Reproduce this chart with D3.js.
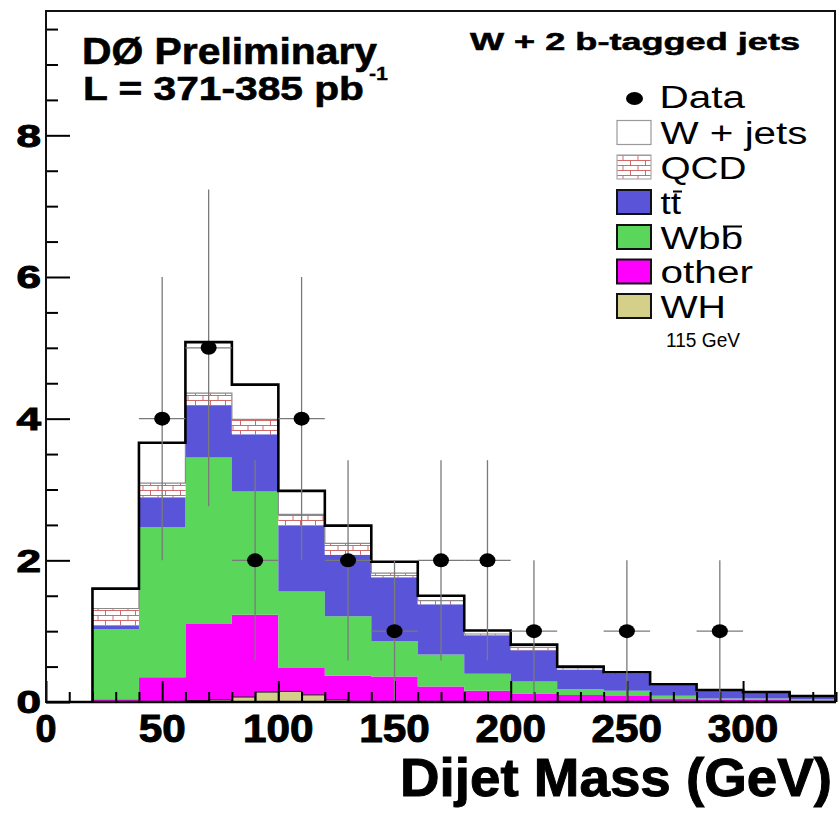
<!DOCTYPE html>
<html>
<head>
<meta charset="utf-8">
<script src="https://cdn.jsdelivr.net/npm/d3@7"></script>
<style>
  body { margin: 0; background: #fff; }
  svg { display: block; font-family: "Liberation Sans", Arial, Helvetica, sans-serif; }
</style>
</head>
<body>
<svg id="chart" width="839" height="814"></svg>
<script>
// Dijet mass spectrum, W + 2 b-tagged jets (events per 20 GeV bin)
const binLow = [20, 40, 60, 80, 100, 120, 140, 160, 180, 200, 220, 240, 260, 280, 300, 320];
const binWidth = 20;

// Background contributions per bin, stacked bottom to top
const otherVals = [0.04, 0.35, 1.10, 1.23, 0.48, 0.37, 0.36, 0.22, 0.16, 0.12, 0.10, 0.085, 0.05, 0.03, 0.03, 0.02];
const wbbVals   = [0.99, 2.12, 2.35, 1.74, 1.08, 0.84, 0.50, 0.45, 0.24, 0.17, 0.08, 0.075, 0.04, 0.02, 0.02, 0.02];
const ttbarVals = [0.05, 0.42, 0.73, 0.81, 0.93, 0.87, 0.90, 0.71, 0.54, 0.44, 0.28, 0.24, 0.145, 0.11, 0.075, 0.035];
const qcdVals   = [0.24, 0.20, 0.18, 0.21, 0.16, 0.16, 0.06, 0.05, 0.02, 0.04, 0.02, 0.01, 0.005, 0.005, 0.005, 0.005];
const wjetsVals = [0.28, 0.57, 0.72, 0.49, 0.33, 0.25, 0.16, 0.07, 0.05, 0.04, 0.02, 0.01, 0.01, 0.005, 0.01, 0.005];

// WH signal (115 GeV), 10 GeV bins
const whLow = [60, 70, 80, 90, 100, 110, 120];
const whVals = [0.02, 0.03, 0.07, 0.14, 0.15, 0.10, 0.03];
const whWidth = 10;

// Observed events
const dataMass = [50, 70, 90, 110, 130, 150, 170, 190, 210, 250, 290];
const dataCounts = [4, 5, 2, 4, 2, 1, 2, 2, 1, 1, 1];

// Axis labels
const xTickLabels = [0, 50, 100, 150, 200, 250, 300];
const yTickLabels = [0, 2, 4, 6, 8];

const colors = {
  wjets: "#ffffff",
  ttbar: "#5a55d8",
  wbb: "#5ad65a",
  other: "#ff00ff",
  wh: "#d4d08a",
  qcdLine: "#cc5a5a"
};

const svg = d3.select("#chart");
const x = d3.scaleLinear().domain([0, 340]).range([46, 836]);
const y = d3.scaleLinear().domain([0, 9.755]).range([702, 11]);

// brick hatch for QCD
const defs = svg.append("defs");
const pat = defs.append("pattern").attr("id", "bricks")
  .attr("patternUnits", "userSpaceOnUse").attr("width", 15).attr("height", 10);
pat.append("rect").attr("width", 15).attr("height", 10).attr("fill", "#fff");
pat.append("path")
  .attr("d", "M0,0.5H15M0,5.5H15M0.5,0.5V5.5M8,5.5V10")
  .attr("stroke", colors.qcdLine).attr("stroke-width", 0.9).attr("fill", "none");

defs.append("clipPath").attr("id", "plotClip")
  .append("rect").attr("x", x(0)).attr("y", y.range()[1])
  .attr("width", x(340) - x(0)).attr("height", y(0) - y.range()[1]);

// stacked background
const rows = binLow.map((lo, i) => ({
  lo, other: otherVals[i], wbb: wbbVals[i], ttbar: ttbarVals[i], qcd: qcdVals[i], wjets: wjetsVals[i]
}));
const keys = ["other", "wbb", "ttbar", "qcd", "wjets"];
const series = d3.stack().keys(keys)(rows);

// step points: each bin plus a closing edge
function stepPoints(layer) {
  const pts = layer.map((d, i) => ({ x: binLow[i], y0: d[0], y1: d[1] }));
  const last = pts[pts.length - 1];
  pts.push({ x: last.x + binWidth, y0: last.y0, y1: last.y1 });
  return pts;
}
const area = d3.area().curve(d3.curveStepAfter)
  .x(d => x(d.x)).y0(d => y(d.y0)).y1(d => y(d.y1));
const topLine = d3.line().curve(d3.curveStepAfter)
  .x(d => x(d.x)).y(d => y(d.y1));

const plot = svg.append("g").attr("clip-path", "url(#plotClip)");
const fillFor = { other: colors.other, wbb: colors.wbb, ttbar: colors.ttbar, qcd: "url(#bricks)", wjets: colors.wjets };

series.forEach(layer => {
  plot.append("path").datum(stepPoints(layer))
    .attr("d", area).attr("fill", fillFor[layer.key]).attr("stroke", "none");
});

// thin outline on top of QCD band
const qcdLayer = series.find(s => s.key === "qcd");
plot.append("path").datum(stepPoints(qcdLayer))
  .attr("d", topLine).attr("fill", "none").attr("stroke", "#8a8a8a").attr("stroke-width", 1.2);

// outline of total background, dropping to zero at the first edge
const totalLayer = series[series.length - 1];
const totalPts = stepPoints(totalLayer);
const totalPath = d3.path();
totalPath.moveTo(x(binLow[0]), y(0));
totalPts.forEach((p, i) => {
  totalPath.lineTo(x(p.x), y(p.y1));
  if (i < totalPts.length - 1) totalPath.lineTo(x(totalPts[i + 1].x), y(p.y1));
});
plot.append("path").attr("d", totalPath.toString())
  .attr("fill", "none").attr("stroke", "#000").attr("stroke-width", 2.6);

// WH signal
plot.selectAll("rect.wh").data(whLow).join("rect").attr("class", "wh")
  .attr("x", d => x(d)).attr("width", d => x(d + whWidth) - x(d))
  .attr("y", (d, i) => y(whVals[i])).attr("height", (d, i) => y(0) - y(whVals[i]))
  .attr("fill", colors.wh).attr("stroke", "#222").attr("stroke-width", 1);

// axes with inward ticks
const xAxis = d3.axisBottom(x).tickValues(d3.range(0, 341, 10)).tickSize(-10).tickFormat("");
const gx = svg.append("g").attr("transform", `translate(0,${y(0)})`).call(xAxis);
gx.select(".domain").remove();
gx.selectAll(".tick line")
  .attr("y2", d => d % 50 === 0 ? -21 : -10)
  .attr("stroke", "#000").attr("stroke-width", 2);

const yAxis = d3.axisLeft(y).tickValues(d3.range(0, 9.6, 0.5)).tickSize(-12).tickFormat("");
const gy = svg.append("g").attr("transform", `translate(${x(0)},0)`).call(yAxis);
gy.select(".domain").remove();
gy.selectAll(".tick line")
  .attr("x2", d => d % 2 === 0 ? 24 : 12)
  .attr("stroke", "#000").attr("stroke-width", 2);

// tick labels
svg.append("g").selectAll("text").data(xTickLabels).join("text")
  .attr("x", d => x(d)).attr("y", 742)
  .attr("text-anchor", "middle").attr("font-weight", "bold").attr("font-size", 38)
  .attr("stroke", "#000").attr("stroke-width", 1)
  .attr("textLength", d => d === 0 ? 21 : String(d).length * 23.5)
  .attr("lengthAdjust", "spacingAndGlyphs")
  .text(d => d);

svg.append("g").selectAll("text").data(yTickLabels).join("text")
  .attr("x", 41).attr("y", d => y(d) + 11.4)
  .attr("text-anchor", "end").attr("font-weight", "bold").attr("font-size", 31.7)
  .attr("stroke", "#000").attr("stroke-width", 1)
  .attr("textLength", 24.5).attr("lengthAdjust", "spacingAndGlyphs")
  .text(d => d);

// axis title
svg.append("text").attr("x", 832).attr("y", 796)
  .attr("text-anchor", "end").attr("font-weight", "bold").attr("font-size", 54)
  .attr("stroke", "#000").attr("stroke-width", 1)
  .attr("textLength", 432).attr("lengthAdjust", "spacingAndGlyphs")
  .text("Dijet Mass (GeV)");

// data points with errors
const gd = svg.append("g");
dataMass.forEach((m, i) => {
  const n = dataCounts[i], e = Math.sqrt(n);
  gd.append("line").attr("x1", x(m)).attr("x2", x(m))
    .attr("y1", y(Math.max(0, n - e))).attr("y2", y(n + e))
    .attr("stroke", "#7a7a7a").attr("stroke-width", 1.3);
  gd.append("line").attr("x1", x(m - binWidth / 2)).attr("x2", x(m + binWidth / 2))
    .attr("y1", y(n)).attr("y2", y(n))
    .attr("stroke", "#7a7a7a").attr("stroke-width", 1.3);
});
gd.selectAll("ellipse").data(dataMass).join("ellipse")
  .attr("cx", d => x(d)).attr("cy", (d, i) => y(dataCounts[i]))
  .attr("rx", 8).attr("ry", 7).attr("fill", "#000");

// frame
svg.append("rect").attr("x", x(0)).attr("y", y.range()[1])
  .attr("width", x(340) - x(0) - 1).attr("height", y(0) - y.range()[1])
  .attr("fill", "none").attr("stroke", "#111").attr("stroke-width", 2);
svg.append("line").attr("x1", x(0)).attr("x2", x(340)).attr("y1", y(0)).attr("y2", y(0))
  .attr("stroke", "#000").attr("stroke-width", 2.6);

// headings
function txt(s, xp, yp, fs, w, weight, sw) {
  const t = svg.append("text").attr("x", xp).attr("y", yp)
    .attr("font-size", fs).attr("font-weight", weight || "normal")
    .attr("textLength", w).attr("lengthAdjust", "spacingAndGlyphs").text(s);
  if (sw) t.attr("stroke", "#000").attr("stroke-width", sw);
  return t;
}
txt("DØ Preliminary", 82, 64, 37, 295, "bold", 0.6);
txt("L = 371-385 pb", 83, 99.5, 34, 281, "bold", 0.6);
txt("-1", 369, 80, 18, 19, "bold", 0.3);
txt("W + 2 b-tagged jets", 470, 50.2, 23.5, 330, "bold", 0.5);

// legend
const legend = [
  { label: "W + jets", fill: colors.wjets, stroke: "#999", sw: 1.2, w: 147 },
  { label: "QCD", fill: "url(#bricks)", stroke: "#aaa", sw: 1.2, w: 86 },
  { label: "tt", fill: colors.ttbar, stroke: "#111", sw: 2, w: 20.5, bar: [673, 682] },
  { label: "Wbb", fill: colors.wbb, stroke: "#111", sw: 2, w: 82.5, bar: [723, 742] },
  { label: "other", fill: colors.other, stroke: "#111", sw: 2, w: 92.5 },
  { label: "WH", fill: colors.wh, stroke: "#111", sw: 2, w: 65.5 }
];
svg.append("ellipse").attr("cx", 634.5).attr("cy", 98.5).attr("rx", 8.5).attr("ry", 6.5).attr("fill", "#000");
txt("Data", 659.5, 108, 31, 85.5);
const rowTop = [120.5, 155, 190, 225, 259.5, 294];
legend.forEach((d, i) => {
  const t = rowTop[i];
  svg.append("rect").attr("x", 617).attr("y", t).attr("width", 34).attr("height", 24)
    .attr("fill", d.fill).attr("stroke", d.stroke).attr("stroke-width", d.sw);
  txt(d.label, 660.5, t + 23.5, 31, d.w);
  if (d.bar) {
    svg.append("line").attr("x1", d.bar[0]).attr("x2", d.bar[1])
      .attr("y1", t + 1.5).attr("y2", t + 1.5)
      .attr("stroke", "#000").attr("stroke-width", 2);
  }
});
txt("115 GeV", 666, 346.6, 20, 74);
</script>
</body>
</html>
